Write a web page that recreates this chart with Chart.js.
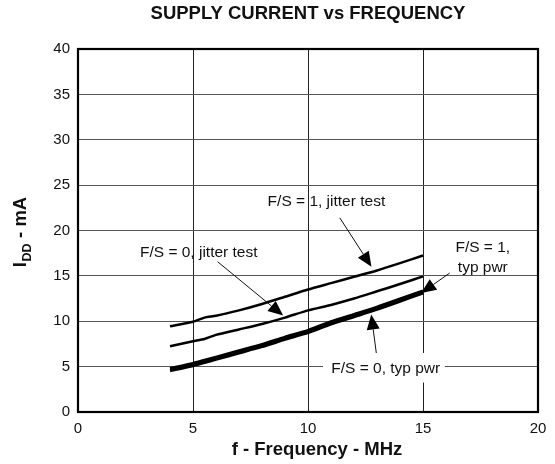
<!DOCTYPE html>
<html>
<head>
<meta charset="utf-8">
<script src="https://cdn.jsdelivr.net/npm/chart.js@4/dist/chart.umd.min.js"></script>
<style>
html,body{margin:0;padding:0;background:#fff;}
#wrap{width:555px;height:464px;position:relative;}
</style>
</head>
<body>
<div id="wrap"><canvas id="c" width="555" height="464"></canvas></div>
<script>
// ---- data ----
const freqMHz        = [4, 5, 5.5, 6, 7, 8, 9, 10, 11, 12, 13, 14, 15];
const fs1JitterTest  = [9.45, 9.95, 10.4, 10.6, 11.2, 11.9, 12.7, 13.5, 14.2, 14.9, 15.6, 16.4, 17.25];
const fs0JitterTest  = [7.25, 7.8, 8.05, 8.5, 9.1, 9.7, 10.4, 11.2, 11.8, 12.5, 13.3, 14.1, 14.95];
const fs1TypPwr      = [4.8, 5.35, 5.7, 6.05, 6.75, 7.45, 8.25, 9.0, 9.95, 10.75, 11.55, 12.45, 13.35];
const fs0TypPwr      = [4.55, 5.1, 5.45, 5.8, 6.5, 7.2, 8.0, 8.75, 9.7, 10.5, 11.3, 12.2, 13.1];
const xTicks = [0, 5, 10, 15, 20];
const yTicks = [0, 5, 10, 15, 20, 25, 30, 35, 40];
const titleText = 'SUPPLY CURRENT vs FREQUENCY';
const xTitle = 'f - Frequency - MHz';
// annotation texts (positions in data units)
const labels = [
  {lines:['F/S = 1, jitter test'], x:10.8, y:23.2, box:false},
  {lines:['F/S = 0, jitter test'], x:5.25, y:17.5, box:false},
  {lines:['F/S = 1,','typ pwr'], x:17.6, y:17.0, box:true, bx0:15.25, bx1:19.0, by0:15.6, by1:19.2},
  {lines:['F/S = 0, typ pwr'], x:13.38, y:4.79, box:true, bx0:10.65, bx1:15.95, by0:3.25, by1:6.5}
];
const arrows = [
  {x0:11.38, y0:21.4, x1:12.76, y1:16.0},
  {x0:6.07, y0:16.56, x1:8.92, y1:10.62},
  {x0:16.16, y0:15.31, x1:14.92, y1:13.1},
  {x0:12.97, y0:6.5, x1:12.75, y1:10.74}
];

const FONT = "'Liberation Sans', Arial, sans-serif";
const pts = ys => freqMHz.map((x,i)=>({x:x, y:ys[i]}));

const deco = {
  id:'deco',
  beforeDatasetsDraw(chart){
    const {ctx, scales:{x, y}} = chart;
    ctx.save();
    ctx.fillStyle = '#fff';
    labels.forEach(l=>{
      if(!l.box) return;
      const px0 = x.getPixelForValue(l.bx0), px1 = x.getPixelForValue(l.bx1);
      const py0 = y.getPixelForValue(l.by1), py1 = y.getPixelForValue(l.by0);
      ctx.fillRect(px0, py0, px1-px0, py1-py0);
    });
    ctx.restore();
  },
  afterDatasetsDraw(chart){
    const {ctx, chartArea:a, scales:{x, y}} = chart;
    ctx.save();
    // arrows
    arrows.forEach(ar=>{
      const x0=x.getPixelForValue(ar.x0), y0=y.getPixelForValue(ar.y0);
      const x1=x.getPixelForValue(ar.x1), y1=y.getPixelForValue(ar.y1);
      const ang = Math.atan2(y1-y0, x1-x0);
      const L = 15, W = 6.5;
      const bx = x1 - L*Math.cos(ang), by = y1 - L*Math.sin(ang);
      ctx.strokeStyle = '#111'; ctx.lineWidth = 1;
      ctx.beginPath(); ctx.moveTo(x0,y0); ctx.lineTo(bx,by); ctx.stroke();
      ctx.fillStyle = '#000';
      ctx.beginPath();
      ctx.moveTo(x1,y1);
      ctx.lineTo(bx + W*Math.sin(ang), by - W*Math.cos(ang));
      ctx.lineTo(bx - W*Math.sin(ang), by + W*Math.cos(ang));
      ctx.closePath(); ctx.fill();
    });
    // labels
    ctx.fillStyle = '#111';
    ctx.font = '15.5px ' + FONT;
    ctx.textAlign = 'center'; ctx.textBaseline = 'middle';
    labels.forEach(l=>{
      const cx = x.getPixelForValue(l.x), cy = y.getPixelForValue(l.y);
      const lh = 19.5;
      const start = cy - (l.lines.length-1)*lh/2;
      l.lines.forEach((t,i)=> ctx.fillText(t, cx, start + i*lh));
    });
    // plot border
    ctx.strokeStyle = '#000'; ctx.lineWidth = 2.2;
    ctx.strokeRect(a.left, a.top, a.right-a.left, a.bottom-a.top);
    // title
    ctx.fillStyle = '#111';
    ctx.font = 'bold 18.5px ' + FONT;
    ctx.textAlign = 'center'; ctx.textBaseline = 'middle';
    ctx.fillText(titleText, 308, 14);
    // x title
    ctx.fillText(xTitle, 317, 450);
    // y title with subscript (rotated)
    ctx.translate(26, 232);
    ctx.rotate(-Math.PI/2);
    ctx.textBaseline = 'alphabetic'; ctx.textAlign = 'left';
    const big = 'bold 18.5px ' + FONT, small = 'bold 12.5px ' + FONT;
    ctx.font = big; const wI = ctx.measureText('I').width;
    ctx.font = small; const wD = ctx.measureText('DD').width;
    ctx.font = big; const wR = ctx.measureText(' - mA').width;
    const total = wI + wD + 1 + wR;
    let cx = -total/2;
    ctx.font = big; ctx.fillText('I', cx, 0); cx += wI + 0.5;
    ctx.font = small; ctx.fillText('DD', cx, 5); cx += wD + 0.5;
    ctx.font = big; ctx.fillText(' - mA', cx, 0);
    ctx.restore();
  }
};

new Chart(document.getElementById('c'), {
  type: 'scatter',
  data: {
    datasets: [
      {label:'F/S = 1, jitter test', data: pts(fs1JitterTest), showLine:true, borderColor:'#000', borderWidth:2.5, pointRadius:0, tension:0.2},
      {label:'F/S = 0, jitter test', data: pts(fs0JitterTest), showLine:true, borderColor:'#000', borderWidth:2.5, pointRadius:0, tension:0.2},
      {label:'F/S = 1, typ pwr', data: pts(fs1TypPwr), showLine:true, borderColor:'#000', borderWidth:3, pointRadius:0, tension:0.2},
      {label:'F/S = 0, typ pwr', data: pts(fs0TypPwr), showLine:true, borderColor:'#000', borderWidth:3, pointRadius:0, tension:0.2}
    ]
  },
  options: {
    responsive: false,
    animation: false,
    devicePixelRatio: 1,
    layout: {padding: {top: 49, right: 17, left: 0, bottom: 0}},
    plugins: {legend: {display:false}, tooltip: {enabled:false}, title:{display:false}},
    scales: {
      x: {
        type:'linear', min: xTicks[0], max: xTicks[xTicks.length-1],
        afterBuildTicks: s => { s.ticks = xTicks.map(v=>({value:v})); },
        afterFit: s => { s.height = 52; },
        grid: {color:'#222', lineWidth:1, drawTicks:false},
        border: {display:false},
        ticks: {padding: 8, color:'#111', font:{family:FONT, size:15}, maxRotation:0}
      },
      y: {
        type:'linear', min: yTicks[0], max: yTicks[yTicks.length-1],
        afterBuildTicks: s => { s.ticks = yTicks.map(v=>({value:v})); },
        afterFit: s => { s.width = 78; },
        grid: {color:'#555', lineWidth:1, drawTicks:false},
        border: {display:false},
        ticks: {padding: 8, color:'#111', font:{family:FONT, size:15}}
      }
    }
  },
  plugins: [deco]
});
</script>
</body>
</html>
